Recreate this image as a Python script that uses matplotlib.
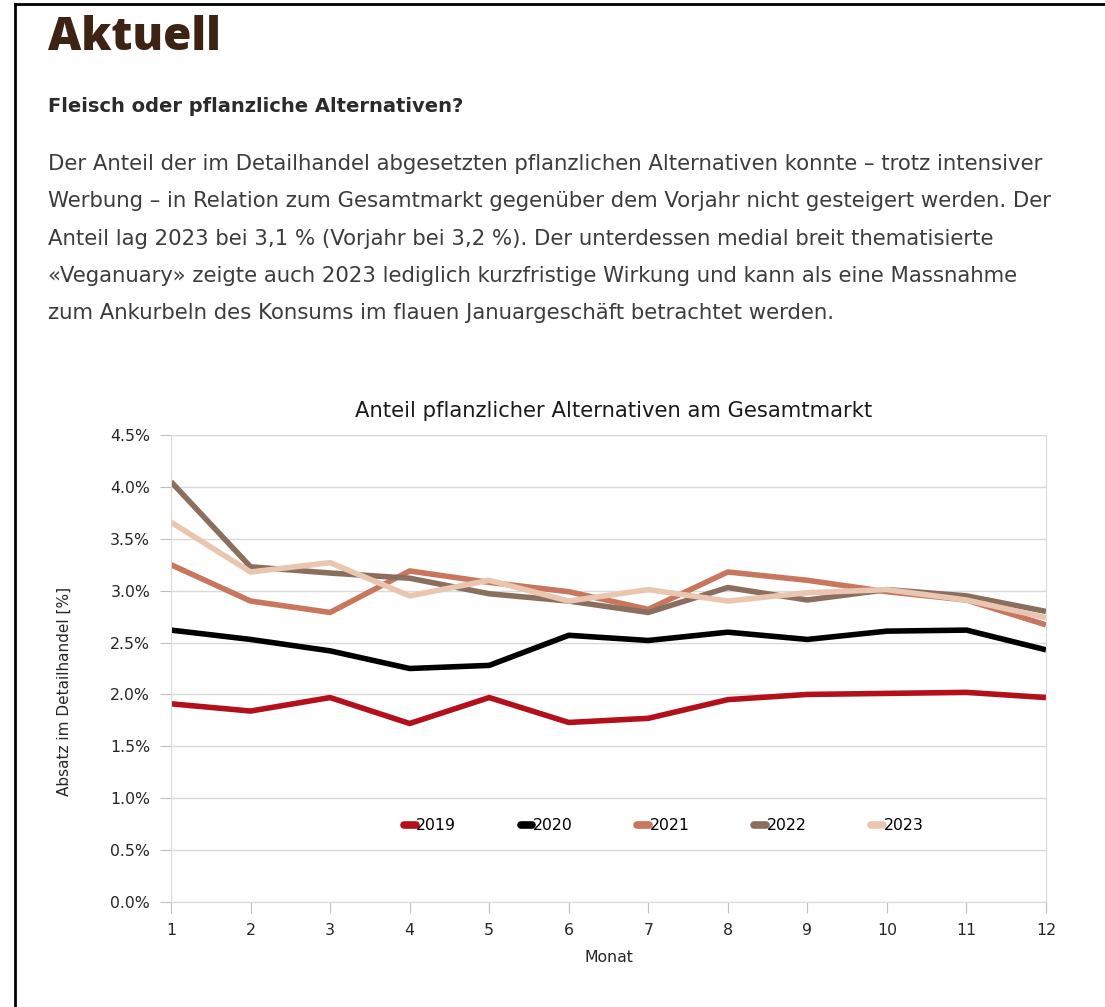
import numpy as np
import matplotlib.pyplot as plt
from matplotlib.lines import Line2D

plt.rcParams['font.family'] = ['DejaVu Sans']

months = list(range(1, 13))
years = ['2019', '2020', '2021', '2022', '2023']
colors = ['#b3101c', '#000000', '#c8765e', '#8a6f5e', '#eac6b1']

v2019 = [1.91, 1.84, 1.97, 1.72, 1.97, 1.73, 1.77, 1.95, 2.00, 2.01, 2.02, 1.97]
v2020 = [2.62, 2.53, 2.42, 2.25, 2.28, 2.57, 2.52, 2.60, 2.53, 2.61, 2.62, 2.43]
v2021 = [3.25, 2.90, 2.79, 3.19, 3.08, 2.99, 2.82, 3.18, 3.10, 2.99, 2.91, 2.67]
v2022 = [4.05, 3.23, 3.17, 3.12, 2.97, 2.90, 2.79, 3.03, 2.91, 3.01, 2.95, 2.80]
v2023 = [3.66, 3.18, 3.27, 2.95, 3.10, 2.90, 3.01, 2.90, 2.98, 3.01, 2.91, 2.74]
series = [v2019, v2020, v2021, v2022, v2023]

paragraph = [
    "Der Anteil der im Detailhandel abgesetzten pflanzlichen Alternativen konnte \u2013 trotz intensiver",
    "Werbung \u2013 in Relation zum Gesamtmarkt gegen\u00fcber dem Vorjahr nicht gesteigert werden. Der",
    "Anteil lag 2023 bei 3,1 % (Vorjahr bei 3,2 %). Der unterdessen medial breit thematisierte",
    "\u00abVeganuary\u00bb zeigte auch 2023 lediglich kurzfristige Wirkung und kann als eine Massnahme",
    "zum Ankurbeln des Konsums im flauen Januargesch\u00e4ft betrachtet werden.",
]

W, H = 1105, 1007
fig = plt.figure(figsize=(W / 100, H / 100), dpi=100)

# page frame (left and top rules only)
fig.add_artist(Line2D([15 / W, 15 / W], [0, 1 - 4 / H], color='black', lw=2))
fig.add_artist(Line2D([15 / W, 1], [1 - 4 / H, 1 - 4 / H], color='black', lw=2))

fig.text(48 / W, 1 - 38 / H, "Aktuell", fontsize=33, fontweight='heavy',
         family='Open Sans', color='#3d2314', va='center', ha='left')
fig.text(48 / W, 1 - 107 / H, "Fleisch oder pflanzliche Alternativen?", fontsize=14,
         fontweight='bold', color='#2b2b2b', va='center', ha='left')
for i, line in enumerate(paragraph):
    fig.text(48 / W, 1 - (164 + i * 37.3) / H, line, fontsize=15.3,
             color='#3c3c3c', va='center', ha='left')

ax = fig.add_axes([171 / W, 1 - 902 / H, (1046 - 171) / W, (902 - 435) / H])
for vals, c, y in zip(series, colors, years):
    ax.plot(months, vals, color=c, lw=4.0, label=y, solid_capstyle='butt')

ax.set_xlim(1, 12)
ax.set_ylim(0, 4.5)
ax.set_xticks(months)
ax.set_yticks(np.arange(0, 4.51, 0.5))
ax.set_yticklabels([f"{t:.1f}%" for t in np.arange(0, 4.51, 0.5)])
ax.grid(axis='y', color='#d9d9d9', lw=1)
ax.set_axisbelow(True)
for s in ax.spines.values():
    s.set_color('#d9d9d9')
ax.tick_params(colors='#bfbfbf', labelcolor='#262626', labelsize=11.3, length=8)
ax.tick_params(axis='x', pad=7)
ax.tick_params(axis='y', pad=7)

fig.text(614 / W, 1 - 411 / H, "Anteil pflanzlicher Alternativen am Gesamtmarkt",
         fontsize=15.2, color='#1a1a1a', ha='center', va='center')
ax.set_xlabel("Monat", fontsize=11.3, color='#262626', labelpad=9)
ax.set_ylabel("Absatz im Detailhandel [%]", fontsize=11, color='#262626')
ax.yaxis.set_label_coords(-0.113, 0.45)

leg = ax.legend(loc='center', bbox_to_anchor=(0.563, 0.163), ncol=5, frameon=False,
                handlelength=0.75, handletextpad=0.05, columnspacing=4.1, fontsize=11.3)
for h in leg.get_lines():
    h.set_linewidth(5.5)
    h.set_solid_capstyle('round')

fig.savefig('out.png', dpi=100)
